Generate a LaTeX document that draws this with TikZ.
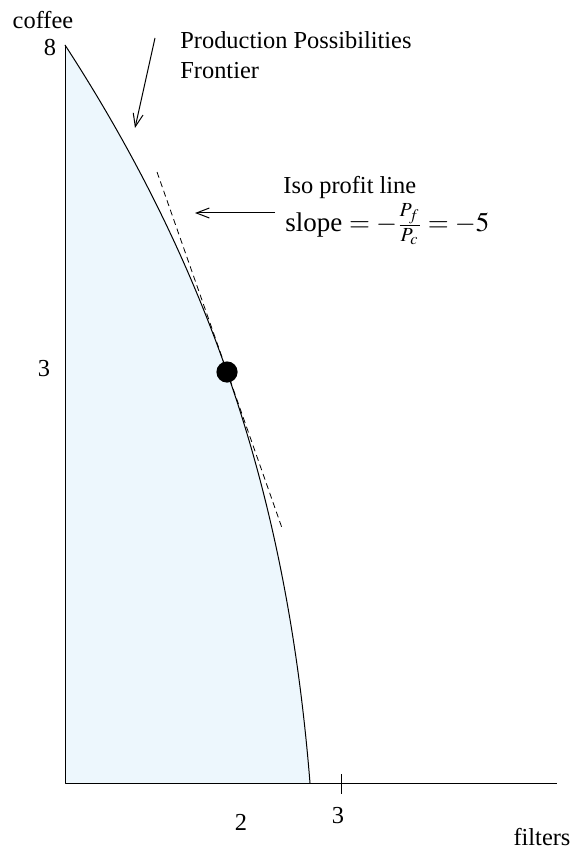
\documentclass[tikz,border=0pt]{standalone}
\usepackage{mathptmx}
\usepackage{fontspec}
\setmainfont{Liberation Serif}
\usepackage{xcolor}
\usetikzlibrary{arrows.meta}
\definecolor{ppffill}{RGB}{237,247,253}
\tikzset{
  axisline/.style={line width=0.5pt},
  pointer/.style={line width=0.5pt, -{Straight Barb[length=6.5pt,width=5pt]}},
  isoline/.style={line width=0.4pt, dash pattern=on 3pt off 2pt}
}

\begin{document}
\begin{tikzpicture}[x=0.5pt, y=-0.5pt, line join=round, font=\fontsize{12.2}{15}\selectfont]
    \useasboundingbox (0,0) rectangle (574,850);
    % Achsen
    \coordinate (O) at (65,783);
    \coordinate (Ytop) at (65,45);
    \coordinate (Xend) at (557,783);
    \coordinate (Pend) at (310,783);
    \coordinate (TickTop) at (341,774);
    \coordinate (TickBot) at (341,794);
    % Tangentialpunkt und Isogewinnlinie
    \coordinate (T) at (227,372);
    \coordinate (IsoA) at (157,172);
    \coordinate (IsoB) at (282,528);
    % Pfeilenden
    \coordinate (PPFtail) at (155,38);
    \coordinate (PPFtip) at (135,128);
    \coordinate (Isotail) at (275,213);
    \coordinate (Isotip) at (195,213);
    % Flaeche unter der Transformationskurve
    \fill[ppffill] (O) -- (Ytop) .. controls (136.5,155) and (188.5,262) .. (T)
        .. controls (275,509) and (299,646) .. (Pend) -- cycle;
    \draw[line width=0.5pt] (Ytop) .. controls (136.5,155) and (188.5,262) .. (T)
        .. controls (275,509) and (299,646) .. (Pend);
    \draw[axisline] (Ytop) -- (O) -- (Xend);
    \draw[axisline] (TickTop) -- (TickBot);
    \draw[isoline] (IsoA) -- (IsoB);
    \fill (T) circle (5.3pt);
    % Pfeile
    \draw[pointer] (PPFtail) -- (PPFtip);
    \draw[pointer] (Isotail) -- (Isotip);
    % Beschriftungen
    \node (ylab) at (43,20) {coffee};
    \node (y8) at (50,48) {8};
    \node (y3) at (44,369) {3};
    \node (x2) at (241,822) {2};
    \node (x3) at (338,816) {3};
    \node[inner sep=1pt] (xlab) at (542,837) {filters};
    \node[anchor=west, align=left, inner sep=0pt] (ppf) at (180,55) {Production Possibilities\\Frontier};
    \node[anchor=base west, inner sep=0pt] (iso) at (283,193) {Iso profit line};
    \node[anchor=base west, inner sep=0pt, font=\fontsize{13.5}{16}\selectfont] (slope) at (285,232) {slope $= -\frac{P_f}{P_c} = -5$};
\end{tikzpicture}
\end{document}
